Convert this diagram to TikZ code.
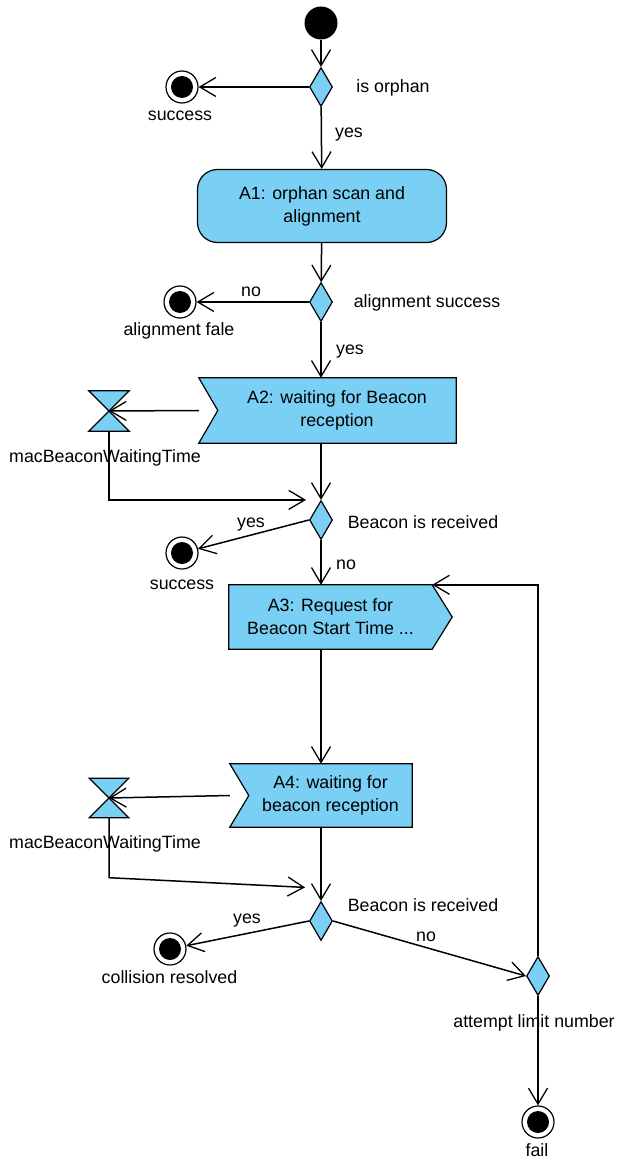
\documentclass[tikz,border=0pt]{standalone}
\usepackage{fontspec}
\setmainfont{Liberation Sans}
\usepackage{xcolor}
\usepackage{tikz}
\usetikzlibrary{arrows.meta,shapes.geometric,calc,backgrounds}
\definecolor{ADBlue}{HTML}{7ACFF4}

\tikzset{
  flow/.style={line width=1.5pt,-{Straight Barb[length=16pt,width=19pt,line width=1.3pt]}},
  startnode/.style={circle,fill=black,minimum size=33pt,inner sep=0pt},
  endnode/.style={circle,draw,fill=white,line width=1.2pt,minimum size=32pt,inner sep=0pt,
    path picture={\fill[black] (path picture bounding box.center) circle (11pt);}},
  choice/.style={diamond,draw,fill=ADBlue,line width=1.2pt,minimum width=23pt,minimum height=39pt,inner sep=0pt},
  actbox/.style={inner sep=0pt,align=center},
  shapeline/.style={draw,fill=ADBlue,line width=1.2pt},
  timer/.style={minimum size=40pt,inner sep=0pt},
  txt/.style={inner sep=0pt}
}

\begin{document}
\begin{tikzpicture}[x=1pt,y=-1pt,font=\fontsize{17.8}{23}\selectfont]
\path[use as bounding box] (0,0) rectangle (616,1161);
% start, is orphan
\node[startnode] (start) at (321,23) {};
\node[choice] (orphan) at (321,87) {};
\node[txt] (t_orphan) at (393,88) {is orphan};
\node[endnode] (succ1) at (182,87) {};
\node[txt] (t_succ1) at (180,116) {success};
\node[txt] (t_yes1) at (349,135) {yes};
% A1 and alignment check
\node[actbox,draw,fill=ADBlue,line width=1.2pt,rounded corners=20pt,minimum width=249pt,minimum height=73pt] (A1) at (322,206) {A1: orphan scan and\\alignment};
\node[choice] (align) at (321,302) {};
\node[txt] (t_align) at (427,303) {alignment success};
\node[endnode] (afail) at (180,302) {};
\node[txt] (t_afail) at (179,331) {alignment fale};
\node[txt] (t_no1) at (251,292) {no};
\node[txt] (t_yes2) at (350,352) {yes};
% A2 with timer
\node[actbox,minimum width=238pt,minimum height=65pt] (A2) at (337,410.5) {A2: waiting for Beacon\\reception};
\coordinate (A2in) at ($(A2.west)+(-19,0)$);
\node[timer] (hg1) at (109,411) {};
\node[txt] (t_hg1) at (105,458) {macBeaconWaitingTime};
\node[choice] (recv1) at (321,520) {};
\coordinate (j1) at ($(recv1.north)+(-15,0)$);
\node[txt] (t_recv1) at (423,522) {Beacon is received};
\node[endnode] (succ2) at (182,553) {};
\node[txt] (t_succ2) at (182,585) {success};
\node[txt] (t_yes3) at (251,525) {yes};
\node[txt] (t_no2) at (346,565) {no};
% A3
\node[actbox,minimum width=203pt,minimum height=64pt] (A3) at (330.5,617) {A3: Request for\\Beacon Start Time ...};
% A4 with timer
\node[actbox,minimum width=163pt,minimum height=63pt] (A4) at (330.5,795.5) {A4: waiting for\\beacon reception};
\coordinate (A4in) at ($(A4.west)+(-19,0)$);
\node[timer,minimum size=39pt] (hg2) at (109,798) {};
\node[txt] (t_hg2) at (105,844) {macBeaconWaitingTime};
\node[choice] (recv2) at (321,921) {};
\coordinate (j2) at ($(recv2.north)+(-16,-13.5)$);
\node[txt] (t_recv2) at (423,905) {Beacon is received};
\node[endnode] (coll) at (170,949) {};
\node[txt] (t_coll) at (169.5,977) {collision resolved};
\node[txt] (t_yes4) at (247,921) {yes};
\node[txt] (t_no3) at (426,937) {no};
% attempt limit
\node[choice] (att) at (538,976) {};
\node[txt] (t_att) at (534,1023) {attempt limit number};
\node[endnode] (fail) at (538,1122) {};
\node[txt] (t_fail) at (537,1150) {fail};

\begin{scope}[on background layer]
\path[shapeline] ($(A2.north west)+(-19,0)$) -- (A2.north east) -- (A2.south east) -- ($(A2.south west)+(-19,0)$) -- (A2.west) -- cycle;
\path[shapeline] (A3.north west) -- (A3.north east) -- ($(A3.east)+(20,0)$) -- (A3.south east) -- (A3.south west) -- cycle;
\path[shapeline] ($(A4.north west)+(-19,0)$) -- (A4.north east) -- (A4.south east) -- ($(A4.south west)+(-19,0)$) -- (A4.west) -- cycle;
\path[shapeline] (hg1.north west) -- (hg1.north east) -- (hg1.south west) -- (hg1.south east) -- cycle;
\path[shapeline] (hg2.north west) -- (hg2.north east) -- (hg2.south west) -- (hg2.south east) -- cycle;
\end{scope}

% connectors
\draw[flow] (start) -- (orphan);
\draw[flow] (orphan.west) -- (succ1);
\draw[flow] (orphan) -- (A1);
\draw[flow] (A1) -- (align);
\draw[flow] (align.west) -- (afail);
\draw[flow] (align) -- (align |- A2.north);
\draw[flow] (A2in) -- (hg1.center);
\draw[flow] (recv1 |- A2.south) -- (recv1);
\draw[flow] (hg1.south) |- (j1);
\draw[flow] (recv1.west) -- (succ2);
\draw[flow] (recv1) -- (recv1 |- A3.north);
\draw[flow] (recv1 |- A3.south) -- (recv2 |- A4.north);
\draw[flow] (A4in) -- (hg2.center);
\draw[flow] (recv2 |- A4.south) -- (recv2);
\draw[flow] (hg2.south) -- ++(0,60) -- (j2);
\draw[flow] (recv2.west) -- (coll);
\draw[flow] (recv2.east) -- (att.west);
\draw[flow] (att) -- (fail);
\draw[flow] (att.north) |- (A3.north east);
\end{tikzpicture}
\end{document}
